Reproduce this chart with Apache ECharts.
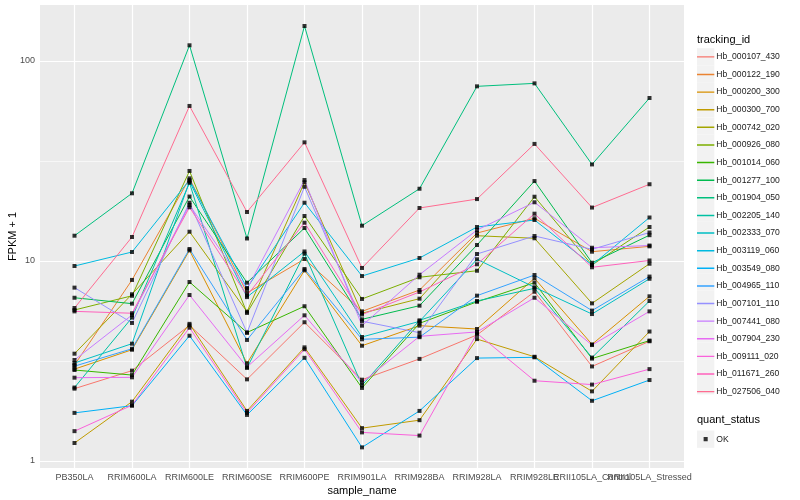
<!DOCTYPE html>
<html><head><meta charset="utf-8">
<script src="https://cdn.jsdelivr.net/npm/echarts@6/dist/echarts.min.js"></script>
<style>html,body{margin:0;padding:0;background:#fff}#c{width:800px;height:500px}</style>
</head><body><div id="c"></div>
<script>
const categories = ['PB350LA','RRIM600LA','RRIM600LE','RRIM600SE','RRIM600PE','RRIM901LA','RRIM928BA','RRIM928LA','RRIM928LE','RRII105LA_Control','RRII105LA_Stressed'];
const trackingIds = ['Hb_000107_430','Hb_000122_190','Hb_000200_300','Hb_000300_700','Hb_000742_020','Hb_000926_080','Hb_001014_060','Hb_001277_100','Hb_001904_050','Hb_002205_140','Hb_002333_070','Hb_003119_060','Hb_003549_080','Hb_004965_110','Hb_007101_110','Hb_007441_080','Hb_007904_230','Hb_009111_020','Hb_011671_260','Hb_027506_040'];
const colors = ['#F8766D','#EA8331','#D89000','#C09B00','#A3A500','#7CAE00','#39B600','#00BB4E','#00BF7D','#00C1A3','#00BFC4','#00BAE0','#00B0F6','#35A2FF','#9590FF','#C77CFF','#E76BF3','#FA62DB','#FF62BC','#FF6C91'];
const yTickValues = [1, 10, 100];
const yMinorValues = [3.1623, 31.623];
const quantStatus = ['OK'];

// FPKM + 1 per sample, one array per tracking_id
const v000107_430 = [2.30, 2.83, 4.77, 2.56, 4.94, 2.55, 3.24, 4.27, 7.02, 2.97, 3.97];
const v000122_190 = [3.02, 8.04, 25.9, 6.92, 10.23, 5.60, 7.16, 13.8, 16.35, 11.13, 11.84];
const v000200_300 = [2.88, 3.60, 11.3, 3.08, 8.98, 3.77, 4.75, 4.57, 8.19, 3.83, 6.66];
const v000300_700 = [1.23, 1.98, 4.85, 1.78, 3.70, 1.46, 1.60, 4.07, 3.32, 2.23, 4.44];
const v000742_020 = [3.44, 6.82, 14.01, 5.58, 24.75, 5.48, 6.48, 13.38, 12.99, 6.14, 9.69];
const v000926_080 = [5.69, 6.70, 28.2, 5.50, 16.79, 6.46, 8.29, 8.94, 20.96, 9.55, 14.79];
const v001014_060 = [2.85, 2.69, 7.85, 4.39, 5.94, 2.32, 4.88, 6.25, 7.79, 3.25, 4.00];
const v001277_100 = [6.55, 6.12, 21.0, 7.79, 14.62, 5.11, 5.98, 12.02, 25.1, 9.80, 13.46];
const v001904_050 = [13.38, 21.8, 119.8, 12.96, 149.6, 15.02, 22.98, 74.7, 77.3, 30.4, 65.3];
const v002205_140 = [2.33, 5.21, 24.6, 2.92, 10.88, 2.39, 5.05, 6.31, 7.30, 3.29, 6.31];
const v002333_070 = [3.09, 3.86, 25.0, 6.60, 11.16, 4.17, 4.99, 10.2, 7.39, 5.43, 8.15];
const v003119_060 = [9.44, 11.09, 25.4, 7.33, 19.56, 8.41, 10.35, 14.79, 16.03, 9.55, 16.5];
const v003549_080 = [1.74, 1.89, 4.23, 1.70, 3.28, 1.17, 1.78, 3.27, 3.30, 2.00, 2.54];
const v004965_110 = [2.98, 3.64, 11.48, 4.03, 9.12, 4.06, 4.16, 6.71, 8.51, 5.65, 8.36];
const v007101_110 = [7.36, 4.90, 19.56, 4.38, 23.5, 5.00, 4.38, 10.84, 13.34, 11.44, 13.88];
const v007441_080 = [3.20, 5.37, 19.05, 7.24, 25.4, 4.75, 8.54, 14.29, 19.66, 11.65, 11.95];
const v007904_230 = [2.61, 2.62, 6.76, 2.95, 5.35, 2.47, 4.20, 4.42, 6.55, 3.80, 5.60];
const v009111_020 = [1.41, 1.90, 4.64, 1.74, 3.62, 1.39, 1.34, 4.35, 2.52, 2.41, 2.88];
const v011671_260 = [5.60, 5.48, 18.56, 6.72, 15.54, 5.40, 7.00, 9.63, 17.24, 9.30, 10.06];
const v027506_040 = [5.82, 13.18, 59.6, 17.58, 39.2, 9.23, 18.41, 20.4, 38.5, 18.5, 24.2];

const seriesValues = [v000107_430, v000122_190, v000200_300, v000300_700, v000742_020, v000926_080, v001014_060, v001277_100, v001904_050, v002205_140, v002333_070, v003119_060, v003549_080, v004965_110, v007101_110, v007441_080, v007904_230, v009111_020, v011671_260, v027506_040];

const L = v => Math.log10(v);
const X_MIN = -0.6, X_MAX = 10.6;
const catIdx = categories.map((c, i) => i);
// padded with the axis ends so that ECharts' min/max label pruning hits empty labels only
const xCustom = [X_MIN].concat(catIdx).concat([X_MAX]);
const catLabel = v => {
  const i = Math.round(v);
  return (Math.abs(v - i) < 1e-6 && categories[i] !== undefined) ? categories[i] : '';
};

const lineSeries = trackingIds.map((id, k) => ({
  name: id, type: 'line', z: 2, symbol: 'none', silent: true,
  lineStyle: { color: colors[k], width: 1 },
  itemStyle: { color: colors[k] },
  data: seriesValues[k].map((v, i) => [i, L(v)])
}));

const pointData = [];
seriesValues.forEach(arr => arr.forEach((v, i) => pointData.push([i, L(v)])));

const gridLines = [];
yTickValues.forEach(v => gridLines.push({ yAxis: L(v), lineStyle: { width: 1.2 } }));
yMinorValues.forEach(v => gridLines.push({ yAxis: L(v), lineStyle: { width: 0.6 } }));
catIdx.forEach(i => gridLines.push({ xAxis: i, lineStyle: { width: 1.2 } }));

const KEY = 17.31;
const LEG_TOP = 48.2;
const LEG_LEFT = 697;
const lineIcon = 'path://M0 0 L0 0 Z M17 17 L17 17 Z M0 7.8 L17 7.8 L17 9.2 L0 9.2 Z';
const pointIcon = 'path://M0 0 L0 0 Z M17 17 L17 17 Z M6.5 6.5 L10.5 6.5 L10.5 10.5 L6.5 10.5 Z';

const graphics = [
  { type: 'text', left: LEG_LEFT, top: 34, style: { text: 'tracking_id', fontSize: 11, fill: '#000', fontFamily: 'Liberation Sans' } },
  { type: 'text', left: LEG_LEFT, top: 414, style: { text: 'quant_status', fontSize: 11, fill: '#000', fontFamily: 'Liberation Sans' } }
];
trackingIds.forEach((id, i) => graphics.push({ type: 'rect', z: 0, shape: { x: LEG_LEFT, y: LEG_TOP + i * KEY, width: KEY, height: KEY }, style: { fill: '#F2F2F2' } }));
graphics.push({ type: 'rect', z: 0, shape: { x: LEG_LEFT, y: 430.5, width: KEY, height: KEY }, style: { fill: '#F2F2F2' } });

const chart = echarts.init(document.getElementById('c'), null, { renderer: 'canvas' });
chart.setOption({
  animation: false,
  textStyle: { fontFamily: 'Liberation Sans' },
  grid: { left: 40, right: 116, top: 5, bottom: 32, show: true, backgroundColor: '#EBEBEB', borderWidth: 0,
    containLabel: false, outerBoundsMode: 'none' },
  xAxis: {
    type: 'value', min: X_MIN, max: X_MAX,
    splitLine: { show: false }, axisLine: { show: false },
    axisTick: { show: true, customValues: xCustom, length: 3, lineStyle: { color: '#333333', width: 1 } },
    axisLabel: { customValues: xCustom, formatter: catLabel, color: '#4D4D4D', fontSize: 9, margin: 5,
      hideOverlap: false, showMinLabel: false, showMaxLabel: false },
    name: 'sample_name', nameLocation: 'middle', nameGap: 17, nameMoveOverlap: false,
    nameTextStyle: { fontSize: 11, color: '#000' }
  },
  yAxis: {
    type: 'value', min: -0.035, max: 2.28,
    splitLine: { show: false }, axisLine: { show: false },
    axisTick: { show: true, customValues: yTickValues.map(L), length: 3, lineStyle: { color: '#333333', width: 1 } },
    axisLabel: { customValues: yTickValues.map(L), formatter: v => String(Math.round(Math.pow(10, v))), color: '#4D4D4D', fontSize: 9, margin: 5 },
    name: 'FPKM + 1', nameLocation: 'middle', nameGap: 22, nameMoveOverlap: false,
    nameTextStyle: { fontSize: 11, color: '#000' }
  },
  legend: [
    {
      orient: 'vertical', left: LEG_LEFT, top: LEG_TOP, padding: 0, itemWidth: KEY, itemHeight: KEY, itemGap: KEY - 17,
      selectedMode: false, icon: lineIcon, symbolKeepAspect: false,
      itemStyle: { borderWidth: 0 },
      textStyle: { fontSize: 8.6, color: '#1a1a1a', padding: [0, 0, 0, -3] },
      data: trackingIds
    },
    {
      orient: 'vertical', left: LEG_LEFT, top: 430.5, padding: 0, itemWidth: KEY, itemHeight: KEY,
      selectedMode: false, icon: pointIcon, symbolKeepAspect: false,
      itemStyle: { borderWidth: 0 },
      textStyle: { fontSize: 8.6, color: '#1a1a1a', padding: [0, 0, 0, -3] },
      data: quantStatus
    }
  ],
  graphic: graphics,
  series: [
    { name: '_grid', type: 'line', data: [], silent: true, z: 1,
      markLine: { silent: true, z: 1, symbol: ['none', 'none'], label: { show: false }, emphasis: { disabled: true },
        lineStyle: { color: '#FFFFFF', type: 'solid' }, data: gridLines } }
  ].concat(lineSeries).concat([
    { name: quantStatus[0], type: 'scatter', z: 3, silent: true, symbol: 'rect', symbolSize: 4,
      itemStyle: { color: '#000000' }, data: pointData }
  ])
});
</script></body></html>
